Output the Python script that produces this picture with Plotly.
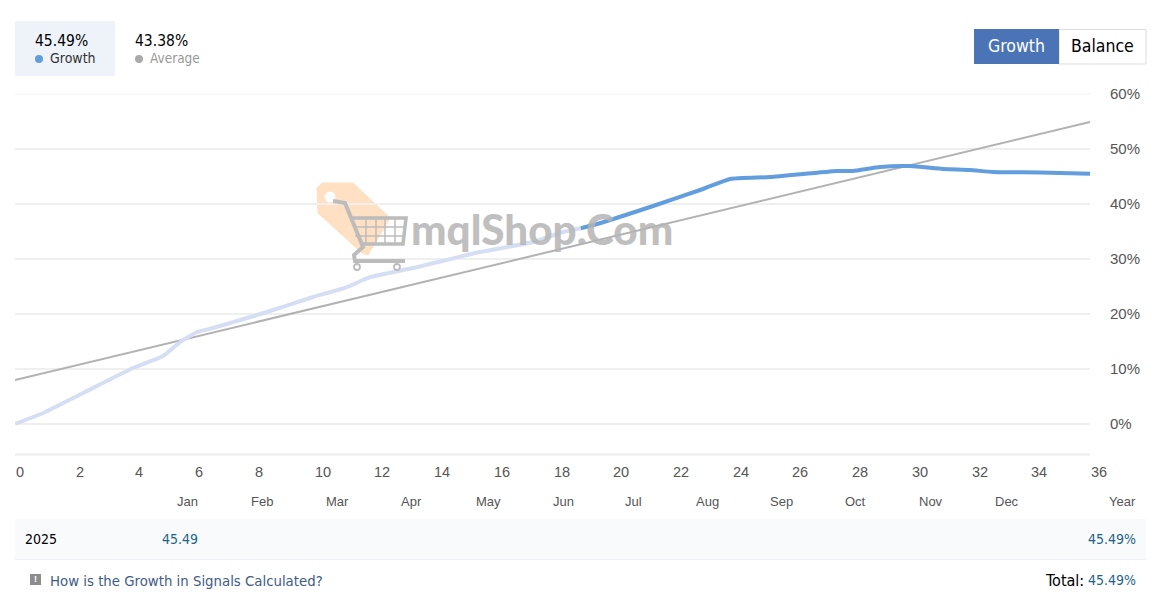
import plotly.graph_objects as go

# --- data -------------------------------------------------------------
weeks = [0, 0.94, 2.28, 3.95, 4.96, 5.53, 6.10, 6.63, 8.44, 9.98, 11.12, 11.89, 13.33,
         15.57, 17.35, 18.35, 18.95, 19.49, 21.37, 23.04, 23.95, 25.28, 27.53, 28.06,
         28.97, 29.97, 31.08, 31.98, 32.75, 34.33, 36]
growth = [0, 2.0, 5.64, 10.18, 12.36, 14.9, 16.73, 17.45, 20.36, 23.09, 24.9, 26.7, 28.36,
          31.27, 33.09, 34.9, 35.6, 36.36, 39.64, 42.73, 44.55, 44.9, 46.0, 46.0,
          46.73, 46.9, 46.36, 46.18, 45.82, 45.73, 45.49]
faded_count = 17
average_x = [0, 36]
average_y = [8.0, 54.9]
x_ticks = list(range(0, 37, 2))
y_ticks = [0, 10, 20, 30, 40, 50, 60]
months = ["Jan", "Feb", "Mar", "Apr", "May", "Jun", "Jul", "Aug", "Sep", "Oct", "Nov", "Dec"]
month_centres = [187, 262, 337, 411, 488, 563, 633, 707, 781, 855, 931, 1007]

# --- page geometry ----------------------------------------------------
W, H = 1158, 609
L, R, T, B = 15, 1090, 94, 455
UI = "DejaVu Sans Condensed"
AX = "Liberation Sans"


def px(x):
    return (x - L) / (R - L)


def py(y):
    return (B - y) / (B - T)


fig = go.Figure()
fig.add_trace(go.Scatter(x=average_x, y=average_y, mode="lines", name="Average",
                         line=dict(color="#b2b2b2", width=2), hoverinfo="skip"))
fig.add_trace(go.Scatter(x=weeks[:faded_count], y=growth[:faded_count], mode="lines", name="Growth",
                         line=dict(color="#d6def3", width=4, shape="spline", smoothing=0.5),
                         hoverinfo="skip"))
fig.add_trace(go.Scatter(x=weeks[faded_count - 1:], y=growth[faded_count - 1:], mode="lines",
                         name="Growth", line=dict(color="#629ddd", width=4, shape="spline", smoothing=0.5),
                         hoverinfo="skip"))

shapes = []
annotations = []


def rect(x0, y0, x1, y1, fill, line=None, layer="below"):
    shapes.append(dict(type="rect", xref="paper", yref="paper", x0=px(x0), x1=px(x1), y0=py(y0), y1=py(y1),
                       fillcolor=fill, line=dict(color=line or fill, width=1 if line else 0), layer=layer))


def circle(cx, cy, r, fill, line=None, width=0, layer="below"):
    shapes.append(dict(type="circle", xref="paper", yref="paper", x0=px(cx - r), x1=px(cx + r),
                       y0=py(cy - r), y1=py(cy + r), fillcolor=fill,
                       line=dict(color=line or fill, width=width), layer=layer))


def stroke(points, color, width, layer="above", opacity=1):
    path = "M" + " L".join(f"{px(a)},{py(b)}" for a, b in points)
    shapes.append(dict(type="path", xref="paper", yref="paper", path=path, opacity=opacity,
                       line=dict(color=color, width=width), layer=layer))


def text(x, y, s, size=14, color="#000", anchor="left", family=UI, weight=None, opacity=None):
    annotations.append(dict(xref="paper", yref="paper", x=px(x), y=py(y), text=s, showarrow=False,
                            xanchor=anchor, yanchor="middle", align=anchor, borderpad=0, borderwidth=0,
                            font=dict(size=size, color=color, family=family, weight=weight),
                            opacity=opacity))


# header
rect(15, 21, 115, 76, "#eef3f9")
text(35, 41, "45.49%", 15.5)
circle(39, 59, 4, "#629ddd")
text(50, 58, "Growth", 14, "#333")
text(135, 41, "43.38%", 15.5)
circle(139, 59, 4, "#aaaaaa")
text(150, 58, "Average", 13.5, "#999")
rect(1059, 29.5, 1146, 64, "#ffffff", "#dddddd")
rect(974, 29, 1059, 64, "#4a74b6")
text(1016.5, 46, "Growth", 17.5, "#ffffff", "center")
text(1102, 46, "Balance", 17.5, "#000000", "center")

# plot frame lines that the axes would drop or place a pixel off
stroke([(L, 94), (R, 94)], "#f2f2f2", 1, "below")
stroke([(L, 454.5), (R, 454.5)], "#ececec", 2, "below")

# tick labels
for t in x_ticks:
    annotations.append(dict(xref="x", yref="paper", x=t, y=py(472), text=str(t), showarrow=False,
                            xanchor="left", yanchor="middle", borderpad=0,
                            font=dict(size=14.5, color="#555", family=AX)))
for v in y_ticks:
    annotations.append(dict(xref="paper", yref="y", x=px(1109), y=v, yshift=1, text=f"{v}%", showarrow=False,
                            xanchor="left", yanchor="middle", borderpad=0,
                            font=dict(size=15, color="#555", family=AX)))
for m, c in zip(months, month_centres):
    text(c, 501, m, 13, "#555", "center", AX)
text(1136, 501, "Year", 13, "#555", "right", AX)

# table
rect(15, 519, 1146, 559, "#f8fafc")
stroke([(15, 559.5), (1146, 559.5)], "#eef1f5", 1, "below")
text(25, 539, "2025", 14, "#000")
text(198, 539, "45.49", 14, "#1f6487", "right")
text(1136, 539, "45.49%", 14, "#1f6487", "right")
rect(30, 574, 41, 585, "#8d8d8d")
text(35.5, 579, "!", 9, "#ffffff", "center", AX, "bold")
text(50, 580, "How is the Growth in Signals Calculated?", 14.8, "#3f5c85")
text(1084, 580, "Total:", 16, "#000", "right")
text(1136, 580, "45.49%", 14, "#1f6487", "right")

# watermark
tag = [(322, 183), (353, 183), (390, 218), (368, 255), (362, 253), (318, 213), (317, 188)]
shapes.append(dict(type="path", xref="paper", yref="paper", layer="below",
                   path="M" + " L".join(f"{px(a)},{py(b)}" for a, b in tag) + " Z",
                   fillcolor="#ffe0c2", line=dict(color="#ffe0c2", width=1)))
circle(330, 197, 5.5, "#ffffff", layer="below")
cart = "#bcbcbc"
stroke([(333, 201), (345, 203), (363, 247), (354, 255), (355, 261), (405, 261)], cart, 4)
stroke([(352, 218), (406, 218), (403, 244), (361, 244)], cart, 3.5)
for gx in (366, 376, 385, 395):
    stroke([(gx, 218), (gx, 244)], cart, 1.5)
for gy in (227, 236):
    stroke([(355, gy), (404, gy)], cart, 1.5)
for wx in (357, 397):
    circle(wx, 267, 3, "#ffffff", cart, 1.8, "above")
text(411, 228, "mqlShop.Com", 42.2, "#b5b5b5", "left", "Lato", 900, 0.85)

fig.update_layout(
    width=W, height=H, autosize=False,
    margin=dict(l=L, r=W - R, t=T, b=H - B, pad=0, autoexpand=False),
    paper_bgcolor="#ffffff", plot_bgcolor="#ffffff", showlegend=False,
    shapes=shapes, annotations=annotations,
    xaxis=dict(range=[0, 36], tickvals=x_ticks, showticklabels=False, ticks="", showgrid=False,
               zeroline=False, showline=False),
    yaxis=dict(range=[60 - (B - T) / 5.5, 60], tickvals=y_ticks, showticklabels=False,
               side="right", ticks="", showgrid=True,
               gridcolor="#efefef", gridwidth=1.5, zeroline=False, showline=False),
)
fig.write_html("out.html", config=dict(displayModeBar=False),
               post_script="document.body.style.margin='0';document.documentElement.style.overflow='hidden';")
